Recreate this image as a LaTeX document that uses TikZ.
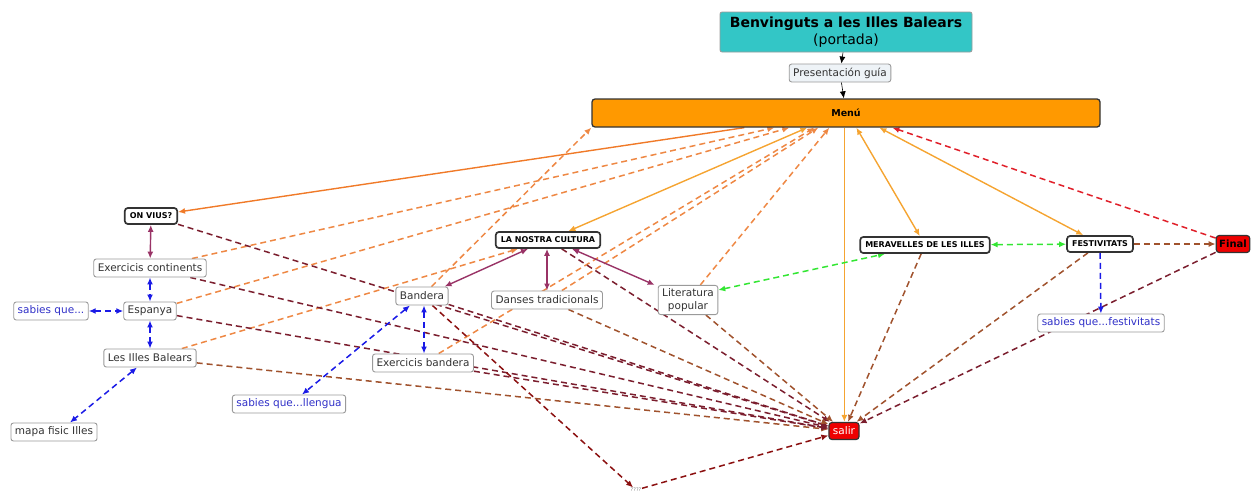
\documentclass[tikz,border=0pt]{standalone}
\usepackage{fontspec}
\setmainfont{DejaVu Sans}
\usetikzlibrary{arrows.meta,backgrounds}
\definecolor{teal1}{HTML}{33C6C6}
\definecolor{presfill}{HTML}{EEF3F7}
\definecolor{menufill}{HTML}{FF9900}
\definecolor{boxgray}{HTML}{9A9A9A}
\definecolor{darkbord}{HTML}{333333}
\definecolor{textgray}{HTML}{333333}
\definecolor{bluetext}{HTML}{3030C8}
\definecolor{cOrange}{HTML}{F07A28}
\definecolor{cDash}{HTML}{EE8844}
\definecolor{cYel}{HTML}{F5A431}
\definecolor{cMaroon}{HTML}{7B1E2E}
\definecolor{cDarkred}{HTML}{8B1010}
\definecolor{cBrown}{HTML}{A0522D}
\definecolor{cRed}{HTML}{E0202A}
\definecolor{cBlue}{HTML}{1A1AE6}
\definecolor{cGreen}{HTML}{33E633}
\definecolor{cPurple}{HTML}{993366}
\definecolor{salirfill}{HTML}{EE0000}
\begin{document}
\begin{tikzpicture}[x=1pt,y=-1pt,
  box/.style={draw=boxgray, fill=white, rounded corners=2.5pt, line width=0.9pt,
    inner xsep=4pt, inner ysep=2pt, minimum height=18pt, text=textgray,
    font=\fontsize{10.5}{12.5}\selectfont},
  bluebox/.style={box, text=bluetext},
  bbox/.style={draw=darkbord, fill=white, rounded corners=3pt, line width=1.7pt,
    inner xsep=5pt, inner ysep=2pt, minimum height=16pt, text=black,
    font=\bfseries\fontsize{8}{9.5}\selectfont},
  onearr/.style={-{Latex[length=7pt,width=6pt]}},
  twoarr/.style={{Latex[length=7pt,width=6pt]}-{Latex[length=7pt,width=6pt]}},
  dsh/.style={dash pattern=on 6pt off 4pt, line width=1.5pt},
  sol/.style={line width=1.4pt},
  todash/.style={onearr, dsh, cDash},
  tosalir/.style={onearr, dsh, cMaroon},
  tosalirb/.style={onearr, dsh, cBrown},
  bluelink/.style={twoarr, dsh, cBlue},
  purplelink/.style={twoarr, sol, cPurple},
  greenlink/.style={twoarr, dsh, cGreen},
  yellink/.style={twoarr, sol, cYel}
]
\useasboundingbox (0,0) rectangle (1257,493);

% nodes
\node[draw=boxgray, fill=teal1, rounded corners=2pt, line width=0.8pt,
  minimum width=252pt, minimum height=40pt, inner sep=1pt, align=center,
  font=\fontsize{14}{17}\selectfont, text=black] (title) at (846,32)
  {\textbf{Benvinguts a les Illes Balears}\\(portada)};
\node[box, fill=presfill] (pres) at (840,73) {Presentación guía};
\node[draw=darkbord, fill=menufill, rounded corners=3pt, line width=1.3pt,
  minimum width=508pt, minimum height=28pt, font=\bfseries\fontsize{9.5}{11}\selectfont] (menu) at (846,113) {Menú};

\node[bbox] (onvius) at (151,216) {ON VIUS?};
\node[box] (exc) at (150,268) {Exercicis continents};
\node[box] (esp) at (150,311) {Espanya};
\node[bluebox] (sab) at (51,311) {sabies que...};
\node[box] (ill) at (150,358) {Les Illes Balears};
\node[box] (mapa) at (54,432) {mapa fisic Illes};
\node[bluebox] (sabll) at (289,404) {sabies que...llengua};
\node[box] (band) at (422,296) {Bandera};
\node[box] (excb) at (423,363) {Exercicis bandera};
\node[bbox] (lnc) at (548,240) {LA NOSTRA CULTURA};
\node[box] (danses) at (547,300) {Danses tradicionals};
\node[box, align=center, inner ysep=3pt, font=\fontsize{10.5}{13}\selectfont] (lit) at (688,300) {Literatura\\popular};
\node[bbox] (mer) at (925,245) {MERAVELLES DE LES ILLES};
\node[bbox] (fest) at (1100,244) {FESTIVITATS};
\node[draw=darkbord, fill=salirfill, rounded corners=3pt, line width=1.2pt,
  minimum height=17pt, inner xsep=3pt, inner ysep=1pt,
  font=\bfseries\fontsize{10}{12}\selectfont] (final) at (1233,244) {Final};
\node[bluebox] (sabf) at (1101,323) {sabies que...festivitats};
\node[draw=darkbord, fill=salirfill, rounded corners=3pt, line width=1.2pt,
  minimum height=17pt, inner xsep=4pt, inner ysep=1pt, text=white,
  font=\fontsize{10.5}{12}\selectfont] (salir) at (844,431) {salir};
\node[inner sep=0.5pt, text=gray, font=\fontsize{5}{6}\selectfont] (q) at (636,490) {????};
\coordinate (msal) at ([xshift=253pt]menu.south west);

\begin{pgfonlayer}{background}
% top chain
\draw[onearr, black, line width=0.6pt] (title) -- (pres);
\draw[onearr, black, line width=0.6pt] (pres) -- (menu);
% solid links from menu
\draw[onearr, sol, cOrange] ([xshift=153pt]menu.south west) -- (onvius);
\draw[yellink] (lnc) -- ([xshift=216pt]menu.south west);
\draw[onearr, sol, cYel] (msal) -- (salir.north -| msal);
\draw[yellink] (mer) -- ([xshift=265pt]menu.south west);
\draw[yellink] (fest) -- ([xshift=288pt]menu.south west);
\draw[onearr, dsh, cRed] (final) -- ([xshift=301pt]menu.south west);
% dashed orange to menu
\draw[todash] (exc) -- ([xshift=183pt]menu.south west);
\draw[todash] (esp) -- ([xshift=198pt]menu.south west);
\draw[todash] (band) -- (menu.south west);
\draw[todash] (excb) -- ([xshift=223pt]menu.south west);
\draw[todash] (danses) -- ([xshift=227pt]menu.south west);
\draw[todash] (lit) -- ([xshift=238pt]menu.south west);
\draw[todash] (ill) -- ([xshift=-30pt]lnc.south);
% dashed to salir
\draw[tosalir] (onvius) -- (salir);
\draw[tosalir] (exc) -- (salir);
\draw[tosalir] (esp) -- (salir);
\draw[tosalirb] (ill) -- (salir);
\draw[tosalir] (band) -- (salir);
\draw[onearr, dsh, cDarkred] (band) -- (q);
\draw[onearr, dsh, cDarkred] (q) -- (salir);
\draw[tosalir] (excb) -- (salir);
\draw[tosalir] (lnc) -- (salir);
\draw[tosalirb] (danses) -- (salir);
\draw[tosalirb] (lit) -- (salir);
\draw[tosalirb] (mer) -- (salir);
\draw[tosalirb] (fest) -- (salir);
\draw[tosalir] (final) -- (salir);
\draw[onearr, dsh, cBrown] (fest) -- (final);
% blue links
\draw[bluelink] (exc) -- (esp);
\draw[bluelink] (esp) -- (ill);
\draw[bluelink] (sab) -- (esp);
\draw[bluelink] ([xshift=-13pt]ill.south) -- ([xshift=16pt]mapa.north);
\draw[bluelink] ([xshift=-12pt]band.south) -- ([xshift=13pt]sabll.north);
\draw[bluelink] ([xshift=2pt]band.south) -- ([xshift=1pt]excb.north);
\draw[onearr, dsh, cBlue] (fest) -- (sabf);
% purple links
\draw[purplelink] (onvius) -- (exc);
\draw[purplelink] ([xshift=-20pt]lnc.south) -- ([xshift=-4pt]band.north east);
\draw[purplelink] ([xshift=-1pt]lnc.south) -- (danses);
\draw[purplelink] ([xshift=24pt]lnc.south) -- ([xshift=-3pt]lit.north west);
% green links
\draw[greenlink] ([yshift=10pt]lit.east) -- ([xshift=-40pt]mer.south);
\draw[greenlink] (mer) -- (fest);
\end{pgfonlayer}
\end{tikzpicture}
\end{document}
